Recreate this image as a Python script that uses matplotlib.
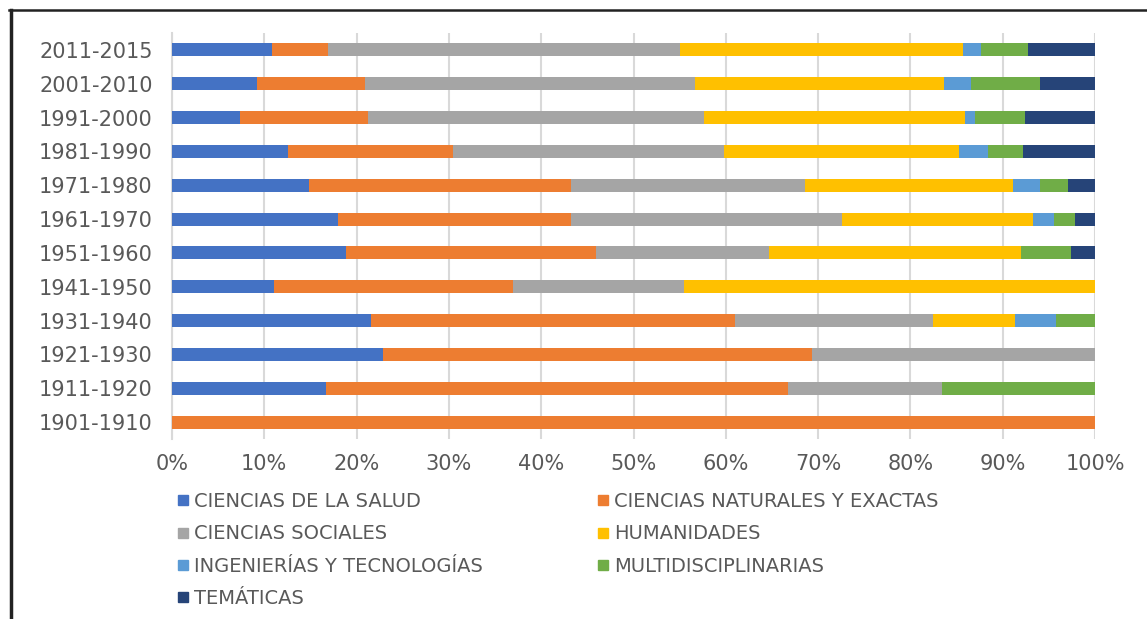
import matplotlib
matplotlib.use("Agg")
import matplotlib.pyplot as plt
from matplotlib.lines import Line2D
import numpy as np

periods = ["2011-2015", "2001-2010", "1991-2000", "1981-1990", "1971-1980",
           "1961-1970", "1951-1960", "1941-1950", "1931-1940", "1921-1930",
           "1911-1920", "1901-1910"]

series_names = ["CIENCIAS DE LA SALUD", "CIENCIAS NATURALES Y EXACTAS",
                "CIENCIAS SOCIALES", "HUMANIDADES",
                "INGENIERÍAS Y TECNOLOGÍAS", "MULTIDISCIPLINARIAS", "TEMÁTICAS"]

salud       = [10.8,  9.2,  7.4, 12.6, 14.8, 18.0, 18.9, 11.0, 21.6, 22.9, 16.7,   0.0]
naturales   = [ 6.1, 11.7, 13.8, 17.8, 28.4, 25.2, 27.0, 25.9, 39.4, 46.4, 50.0, 100.0]
sociales    = [38.1, 35.8, 36.4, 29.4, 25.4, 29.4, 18.8, 18.6, 21.5, 30.7, 16.7,   0.0]
humanidades = [30.7, 26.9, 28.3, 25.5, 22.5, 20.7, 27.3, 44.5,  8.8,  0.0,  0.0,   0.0]
ingenierias = [ 2.0,  3.0,  1.1,  3.1,  2.9,  2.3,  0.0,  0.0,  4.5,  0.0,  0.0,   0.0]
multi       = [ 5.0,  7.4,  5.4,  3.8,  3.1,  2.2,  5.4,  0.0,  4.2,  0.0, 16.6,   0.0]
tematicas   = [ 7.3,  6.0,  7.6,  7.8,  2.9,  2.2,  2.6,  0.0,  0.0,  0.0,  0.0,   0.0]

colors = ["#4472C4", "#ED7D31", "#A5A5A5", "#FFC000", "#5B9BD5", "#70AD47", "#264478"]

xticks = [0, 10, 20, 30, 40, 50, 60, 70, 80, 90, 100]
xticklabels = ["0%", "10%", "20%", "30%", "40%", "50%", "60%", "70%", "80%", "90%", "100%"]

data = np.array([salud, naturales, sociales, humanidades, ingenierias, multi, tematicas])
totals = data.sum(axis=0)
data = data / totals * 100

fig = plt.figure(figsize=(11.47, 6.19), dpi=100)
ax = fig.add_axes([172/1147, 1 - 439/619, (1095-172)/1147, (439-33)/619])

txt = "#595959"
y = np.arange(len(periods))
left = np.zeros(len(periods))
handles = []
for name, vals, c in zip(series_names, data, colors):
    ax.barh(y, vals, left=left, height=0.38, color=c, edgecolor="none", zorder=3)
    left += vals
    handles.append(Line2D([], [], marker="s", linestyle="", color=c, markersize=6.5,
                          label=name))

ax.set_xlim(0, 100)
ax.set_ylim(len(periods) - 0.5, -0.5)
ax.set_yticks(y)
ax.set_yticklabels(periods, fontsize=15, color=txt)
ax.set_xticks(xticks)
ax.set_xticklabels(xticklabels, fontsize=15, color=txt)
ax.tick_params(length=0)
ax.tick_params(axis="y", pad=14)
ax.tick_params(axis="x", pad=11)
ax.grid(axis="x", color="#D9D9D9", linewidth=1.5, zorder=0)
for s in ["top", "right", "bottom"]:
    ax.spines[s].set_visible(False)
ax.spines["left"].set_color("#D9D9D9")
ax.spines["left"].set_linewidth(1.5)

order = [0, 2, 4, 6, 1, 3, 5]
leg = fig.legend([handles[i] for i in order], [series_names[i] for i in order],
                 ncol=2, loc="upper left", bbox_to_anchor=(177/1147, 1 - 492/619),
                 frameon=False, fontsize=14, handlelength=0.6, handletextpad=0.25,
                 labelspacing=0.69, columnspacing=5.9, borderpad=0, borderaxespad=0)
for t in leg.get_texts():
    t.set_color(txt)

# outer frame (left and top edges)
fig.add_artist(Line2D([10.5/1147, 10.5/1147], [0, 1 - 10/619], transform=fig.transFigure,
                      color="#222222", linewidth=2.5))
fig.add_artist(Line2D([9/1147, 1], [1 - 10/619, 1 - 10/619], transform=fig.transFigure,
                      color="#222222", linewidth=1.8))

fig.savefig("out.png", dpi=100)
